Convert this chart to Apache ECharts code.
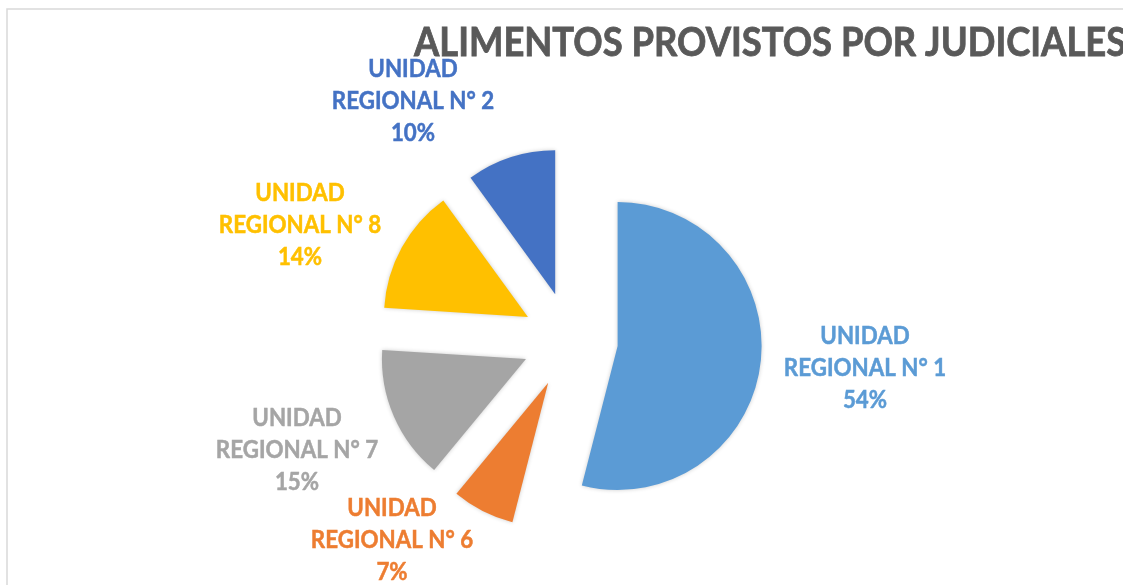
<!DOCTYPE html>
<html>
<head>
<meta charset="utf-8">
<title>Alimentos provistos por judiciales</title>
<script src="https://cdn.jsdelivr.net/npm/echarts@6/dist/echarts.min.js"></script>
<style>
  html, body { margin: 0; padding: 0; background: #fff; }
  #chart { width: 1123px; height: 585px; }
</style>
</head>
<body>
<div id="chart"></div>
<script>
// datos
var categorias = ['UNIDAD REGIONAL N° 1', 'UNIDAD REGIONAL N° 6', 'UNIDAD REGIONAL N° 7', 'UNIDAD REGIONAL N° 8', 'UNIDAD REGIONAL N° 2']
var porcentajes = [54, 7, 15, 14, 10]
var colores = ['#5B9BD5', '#ED7D31', '#A5A5A5', '#FFC000', '#4472C4']

// centro de cada bloque de etiqueta, como lo dejo Excel
var posEtiquetas = [[865, 368], [392, 540], [297, 450], [300, 225], [413, 101]]

var chart = echarts.init(document.getElementById('chart'))

// etiquetas como texto suelto (Calibri no esta, Lato un poco apretado)
var etiquetas = categorias.map(function (c, i) {
  return {
    type: 'text',
    x: posEtiquetas[i][0],
    y: posEtiquetas[i][1],
    scaleX: 0.93,
    z: 10,
    silent: true,
    style: {
      text: c.replace(' REGIONAL', '\nREGIONAL') + '\n' + porcentajes[i] + '%',
      fill: colores[i],
      stroke: colores[i],
      lineWidth: 0.5,
      font: 'bold 24px Lato',
      lineHeight: 32,
      align: 'center',
      verticalAlign: 'middle'
    }
  }
})

chart.setOption({
  animation: false,
  backgroundColor: '#fff',
  graphic: [{
    type: 'rect',
    shape: { x: 7, y: 9, width: 1200, height: 700 },
    style: { fill: 'none', stroke: '#D9D9D9', lineWidth: 1.5 },
    silent: true
  }, {
    type: 'text',
    x: 414,
    y: 43,
    scaleX: 0.91,
    silent: true,
    style: {
      text: 'ALIMENTOS PROVISTOS POR JUDICIALES',
      fill: '#595959',
      stroke: '#595959',
      lineWidth: 0.8,
      font: 'bold 40px Lato',
      align: 'left',
      verticalAlign: 'middle'
    }
  }].concat(etiquetas),
  series: [{
    type: 'pie',
    center: [570, 340],
    radius: 144,
    startAngle: 90,
    clockwise: true,
    selectedMode: 'multiple',
    selectedOffset: 48,
    emphasis: { disabled: true },
    label: { show: false },
    labelLine: { show: false },
    itemStyle: {
      shadowBlur: 4,
      shadowColor: 'rgba(0, 0, 0, 0.2)'
    },
    data: categorias.map(function (c, i) {
      return {
        name: c,
        value: porcentajes[i],
        selected: true,
        itemStyle: { color: colores[i] }
      }
    })
  }]
})
</script>
</body>
</html>
